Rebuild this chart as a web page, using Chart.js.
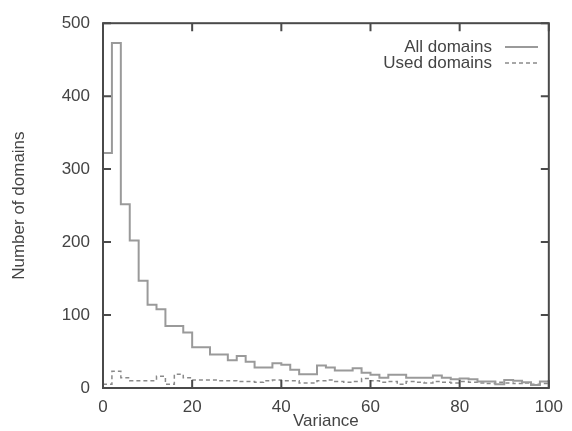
<!DOCTYPE html>
<html>
<head>
<meta charset="utf-8">
<script src="https://cdn.jsdelivr.net/npm/chart.js@4"></script>
<style>
  html, body { margin: 0; padding: 0; background: #fff; }
  #wrap { width: 572px; height: 431px; }
</style>
</head>
<body>
<div id="wrap"><canvas id="myChart" width="572" height="431"></canvas></div>
<script>
// bin edges of the histogram (variance)
const binEdges = [0, 2, 4, 6, 8, 10, 12, 14, 16, 18, 20, 22, 24, 26, 28, 30, 32, 34, 36, 38, 40,
  42, 44, 46, 48, 50, 52, 54, 56, 58, 60, 62, 64, 66, 68, 70, 72, 74, 76, 78, 80,
  82, 84, 86, 88, 90, 92, 94, 96, 98, 100];

const allDomains = [322, 473, 252, 202, 147, 114, 108, 85, 85, 76,
  56, 56, 46, 46, 38, 44, 36, 28, 28, 34,
  32, 25, 19, 19, 31, 28, 24, 24, 27, 21,
  18, 14, 18, 18, 14, 14, 14, 17, 14, 12,
  13, 12, 9, 9, 5, 11, 10, 8, 4, 9];

const usedDomains = [5, 23, 14, 10, 10, 10, 16, 5, 19, 14,
  11, 11, 11, 10, 10, 9, 9, 8, 10, 11,
  10, 10, 7, 7, 10, 11, 9, 8, 9, 13,
  10, 8, 9, 5, 9, 8, 7, 9, 8, 7,
  9, 8, 7, 6, 8, 7, 6, 7, 5, 6];

const xTicks = [0, 20, 40, 60, 80, 100];
const yTicks = [0, 100, 200, 300, 400, 500];

const axisColor = '#4a4a4a';
const textColor = '#444';
const fontFamily = '"Liberation Sans", Arial, sans-serif';

// step series: each bin value held from its left edge to the next edge
function toSteps(values) {
  return binEdges.map((x, i) => ({ x: x, y: values[Math.min(i, values.length - 1)] }));
}

// gnuplot-like frame with inward ticks on all four sides
const framePlugin = {
  id: 'frame',
  afterDatasetsDraw(chart) {
    const ctx = chart.ctx;
    const a = chart.chartArea;
    const xs = chart.scales.x, ys = chart.scales.y;
    const len = 8;
    ctx.save();
    ctx.strokeStyle = axisColor;
    ctx.lineWidth = 2;
    ctx.strokeRect(a.left, a.top, a.right - a.left, a.bottom - a.top);
    ctx.beginPath();
    xTicks.forEach(v => {
      const px = xs.getPixelForValue(v);
      ctx.moveTo(px, a.bottom); ctx.lineTo(px, a.bottom - len);
      ctx.moveTo(px, a.top); ctx.lineTo(px, a.top + len);
    });
    yTicks.forEach(v => {
      const py = ys.getPixelForValue(v);
      ctx.moveTo(a.left, py); ctx.lineTo(a.left + len, py);
      ctx.moveTo(a.right, py); ctx.lineTo(a.right - len, py);
    });
    ctx.stroke();
    ctx.restore();
  }
};

// legend in the top right corner: text first, line sample after it
const keyPlugin = {
  id: 'key',
  afterDatasetsDraw(chart) {
    const ctx = chart.ctx;
    ctx.save();
    ctx.font = '17px ' + fontFamily;
    ctx.textAlign = 'right';
    ctx.textBaseline = 'middle';
    chart.data.datasets.forEach((ds, i) => {
      const y = 47 + i * 16;
      ctx.fillStyle = textColor;
      ctx.fillText(ds.label, 492, y);
      ctx.strokeStyle = ds.borderColor;
      ctx.lineWidth = ds.borderWidth;
      ctx.setLineDash(ds.borderDash || []);
      ctx.beginPath();
      ctx.moveTo(505, y); ctx.lineTo(538, y);
      ctx.stroke();
    });
    ctx.restore();
  }
};

const ctx = document.getElementById('myChart').getContext('2d');

new Chart(ctx, {
  type: 'line',
  data: {
    datasets: [{
      label: 'All domains',
      data: toSteps(allDomains),
      stepped: 'before',
      borderColor: '#9a9a9a',
      borderWidth: 2,
      pointRadius: 0,
      fill: false
    }, {
      label: 'Used domains',
      data: toSteps(usedDomains),
      stepped: 'before',
      borderColor: '#8a8a8a',
      borderWidth: 1.5,
      borderDash: [4, 3],
      pointRadius: 0,
      fill: false
    }]
  },
  options: {
    responsive: false,
    animation: false,
    layout: { padding: { top: 21, right: 19, left: 0, bottom: 0 } },
    plugins: {
      legend: { display: false },
      tooltip: { enabled: false }
    },
    scales: {
      x: {
        type: 'linear',
        min: 0,
        max: 100,
        afterBuildTicks: s => { s.ticks = xTicks.map(v => ({ value: v })); },
        afterFit: s => { s.height = 43; },
        grid: { display: false, drawTicks: false },
        border: { display: false },
        ticks: {
          color: textColor,
          padding: 9,
          maxRotation: 0,
          font: { family: fontFamily, size: 17 }
        },
        title: {
          display: true,
          text: 'Variance',
          color: textColor,
          padding: { top: 0, bottom: -1 },
          font: { family: fontFamily, size: 17 }
        }
      },
      y: {
        min: 0,
        max: 500,
        afterBuildTicks: s => { s.ticks = yTicks.map(v => ({ value: v })); },
        afterFit: s => { s.width = 103; },
        grid: { display: false, drawTicks: false },
        border: { display: false },
        ticks: {
          color: textColor,
          padding: 13,
          font: { family: fontFamily, size: 17 }
        },
        title: {
          display: true,
          text: 'Number of domains',
          color: textColor,
          padding: { top: 9, bottom: 0 },
          font: { family: fontFamily, size: 17 }
        }
      }
    }
  },
  plugins: [framePlugin, keyPlugin]
});
</script>
</body>
</html>
